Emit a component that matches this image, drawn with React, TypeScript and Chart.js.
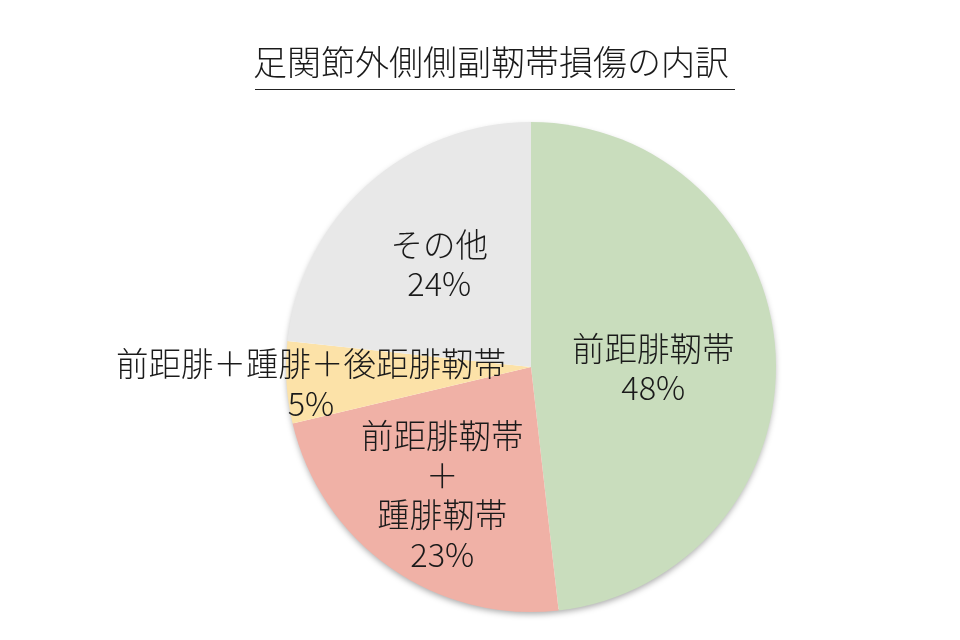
import React, { useEffect, useRef } from "react";
import { Chart, registerables } from "chart.js";

Chart.register(...registerables);

const titleText = "足関節外側側副靭帯損傷の内訳";
const categories = ["前距腓靭帯", "前距腓靭帯＋踵腓靭帯", "前距腓＋踵腓＋後距腓靭帯", "その他"];
const values = [48.2, 23.1, 5.4, 23.3];
const percentLabels = ["48%", "23%", "5%", "24%"];
const labelLines = [["前距腓靭帯"], ["前距腓靭帯", "＋", "踵腓靭帯"], ["前距腓＋踵腓＋後距腓靭帯"], ["その他"]];
const colors = ["#c9ddbd", "#f0b1a6", "#fce2a8", "#e8e8e8"];

const FONT = "'Noto Sans CJK JP', 'Noto Sans', sans-serif";

const pieDecor = {
  id: "pieDecor",
  beforeDatasetsDraw(chart: any) {
    const meta = chart.getDatasetMeta(0);
    const arc = meta.data[0];
    if (!arc) return;
    const ctx = chart.ctx;
    ctx.save();
    ctx.shadowColor = "rgba(0,0,0,0.35)";
    ctx.shadowBlur = 6;
    ctx.shadowOffsetX = 0;
    ctx.shadowOffsetY = 3;
    ctx.fillStyle = "#ffffff";
    ctx.beginPath();
    ctx.arc(arc.x, arc.y, arc.outerRadius - 1, 0, Math.PI * 2);
    ctx.fill();
    ctx.restore();
  },
  afterDraw(chart: any, _args: any, opts: any) {
    const ctx = chart.ctx;
    ctx.save();
    // title
    ctx.fillStyle = "#1a1a1a";
    ctx.font = `300 34px ${FONT}`;
    ctx.textAlign = "center";
    ctx.textBaseline = "middle";
    ctx.fillText(titleText, 491, 62);
    ctx.strokeStyle = "#222";
    ctx.lineWidth = 1;
    ctx.beginPath();
    ctx.moveTo(255, 89.5);
    ctx.lineTo(735, 89.5);
    ctx.stroke();

    // slice labels
    const meta = chart.getDatasetMeta(0);
    const fr: number[] = opts.radiusFraction;
    const dys: number[] = opts.offsetY;
    const lh = 39.5;
    ctx.font = `300 32.5px ${FONT}`;
    meta.data.forEach((a: any, i: number) => {
      const mid = (a.startAngle + a.endAngle) / 2;
      const r = a.outerRadius * fr[i];
      const cx = a.x + Math.cos(mid) * r;
      const cy = a.y + Math.sin(mid) * r + dys[i];
      const lines = [...labelLines[i], percentLabels[i]];
      lines.forEach((t, k) => {
        ctx.fillText(t, cx, cy + (k - (lines.length - 1) / 2) * lh);
      });
    });
    ctx.restore();
  },
};

export default function App() {
  const ref = useRef<HTMLCanvasElement>(null);
  useEffect(() => {
    document.body.style.margin = "0";
    const chart = new Chart(ref.current!, {
      type: "pie",
      data: {
        labels: categories,
        datasets: [
          {
            data: values,
            backgroundColor: colors,
            borderWidth: 0,
          },
        ],
      },
      options: {
        animation: false,
        responsive: false,
        layout: { padding: { left: 286, right: 184, top: 122, bottom: 28 } },
        plugins: {
          legend: { display: false },
          title: { display: false },
          tooltip: { enabled: false },
          pieDecor: { radiusFraction: [0.5, 0.63, 0.9, 0.56], offsetY: [8, 2, 3, -1] },
        } as any,
      },
      plugins: [pieDecor],
    });
    return () => chart.destroy();
  }, []);
  return (
    <div style={{ position: "absolute", left: 0, top: 0, width: 960, height: 640, background: "#fff" }}>
      <canvas ref={ref} width={960} height={640} style={{ width: 960, height: 640 }} />
    </div>
  );
}
